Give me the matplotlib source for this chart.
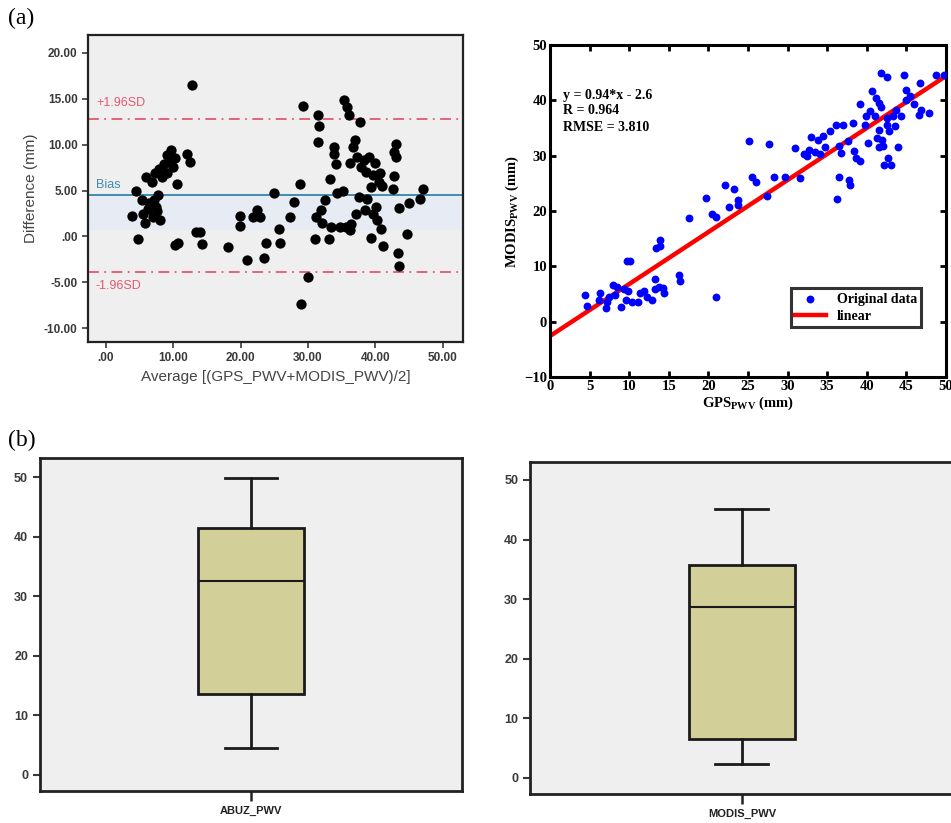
import matplotlib
matplotlib.use("Agg")
import matplotlib.pyplot as plt
import numpy as np

# ----------------- data -----------------
# Bland-Altman: average and difference (mm)
ba_avg = [3.8, 4.5, 4.8, 5.3, 5.5, 5.8, 6.0, 6.4, 6.8, 7.0, 7.3, 7.5, 7.7, 7.9, 8.0,
          8.3, 8.6, 9.0, 9.1, 9.5, 9.7, 10.0, 10.2, 10.3, 10.6, 10.7, 11.96, 12.45,
          12.8, 13.4, 13.9, 14.3, 18.1, 19.9, 19.9, 20.9, 21.8, 22.4, 22.9, 23.4,
          23.7, 25.0, 25.7, 25.9, 27.3, 27.9, 28.8, 28.9, 29.2, 29.99, 30.98, 31.2,
          31.5, 31.5, 31.7, 31.96, 32.1, 32.5, 33.1, 33.2, 33.4, 33.8, 33.9, 34.2,
          34.3, 34.7, 35.2, 35.4, 35.7, 35.8, 36.1, 36.2, 36.3, 36.4, 36.7, 36.9,
          37.05, 37.25, 37.55, 37.7, 37.9, 38.3, 38.4, 38.6, 38.8, 39.0, 39.3, 39.4,
          39.6, 39.7, 39.9, 40.1, 40.2, 40.5, 40.7, 40.9, 41.0, 41.2, 42.6, 42.7,
          42.8, 43.0, 43.1, 43.3, 43.5, 43.5, 44.7, 45.0, 46.6, 47.0,
          6.6, 7.2, 6.2, 7.6]
ba_diff = [2.2, 5.0, -0.3, 4.0, 2.5, 1.5, 6.5, 3.6, 5.9, 2.1, 6.9, 3.2, 4.5, 7.4, 1.8,
           6.5, 7.9, 6.9, 8.9, 8.3, 9.4, 7.6, 8.6, -0.9, 5.7, -0.7, 9.0, 8.1,
           16.5, 0.5, 0.5, -0.8, -1.1, 2.2, 1.1, -2.6, 2.1, 2.9, 2.1, -2.4,
           -0.7, 4.75, 0.8, -0.7, 2.1, 3.8, 5.7, -7.4, 14.2, -4.4, -0.3, 2.1,
           13.2, 10.3, 12.0, 2.9, 1.5, 4.0, -0.3, 6.3, 1.05, 9.8, 9.0, 7.9,
           4.75, 1.05, 5.0, 14.9, 1.05, 14.1, 13.2, 0.7, 8.0, 1.4, 9.8, 10.5,
           2.5, 8.7, 4.25, 12.5, 7.6, 8.3, 2.9, 7.0, 4.1, 8.7, -0.2, 5.4,
           6.7, 2.5, 8.05, 3.2, 1.8, 5.9, 6.9, 0.8, 5.5, -1.05, 5.2, 9.2,
           6.6, 8.7, 10.05, -1.8, -3.2, 3.15, 0.3, 3.6, 4.1, 5.2,
           3.4, 4.0, 3.0, 2.8]
BA_UPPER = 12.8
BA_BIAS = 4.5
BA_LOWER = -3.9

# GPS vs MODIS (mm)
gps = [4.4, 4.7, 6.3, 6.2, 7.1, 7.2, 7.4, 7.9, 8.2, 8.5, 9.0, 9.3, 9.6, 9.7, 10.1,
       9.9, 10.3, 11.1, 11.4, 11.9, 12.2, 12.9, 13.3, 13.3, 13.4, 13.9, 13.9, 13.8,
       14.3, 14.4, 16.3, 16.4, 17.6, 19.7, 20.5, 20.95, 20.95, 22.1, 22.6, 23.3,
       23.8, 23.8, 25.1, 25.5, 26.0, 27.4, 27.6, 28.3, 29.7, 30.9, 31.6, 32.1,
       32.5, 32.7, 33.0, 33.5, 33.9, 34.1, 34.5, 34.7, 35.4, 36.1, 36.3, 36.5,
       36.5, 36.7, 37.0, 37.6, 37.7, 37.9, 38.3, 38.4, 38.6, 39.1, 39.2, 39.8,
       39.9, 40.1, 40.4, 40.6, 41.1, 41.2, 41.3, 41.5, 41.5, 41.6, 41.75, 41.8,
       41.9, 42.1, 42.2, 42.5, 42.6, 42.6, 42.7, 42.8, 43.1, 43.3, 43.6, 43.7,
       43.9, 44.3, 44.7, 44.95, 45.0, 45.5, 45.96, 46.7, 46.6, 46.8, 47.9, 48.7,
       49.7]
modis = [4.9, 2.8, 5.1, 3.9, 2.4, 3.6, 4.5, 6.6, 4.8, 6.3, 2.7, 5.9, 4.0, 10.9, 11.0,
         5.6, 3.6, 3.6, 5.1, 5.5, 4.5, 4.0, 7.8, 5.9, 13.3, 13.7, 14.8, 6.3,
         6.0, 5.1, 8.4, 7.4, 18.7, 22.3, 19.5, 18.9, 4.5, 24.7, 20.8, 24.0,
         22.0, 21.1, 32.6, 26.2, 25.3, 22.8, 32.1, 26.2, 26.1, 31.4, 25.9, 30.3,
         30.0, 31.1, 33.4, 30.6, 32.9, 30.3, 33.5, 31.5, 34.5, 35.6, 22.2, 26.2,
         31.8, 30.5, 35.6, 32.7, 25.6, 24.7, 35.9, 30.8, 29.6, 29.1, 39.4, 35.6,
         37.1, 32.3, 38.1, 41.6, 37.1, 40.4, 33.2, 34.6, 31.5, 39.6, 38.8, 45.0,
         32.9, 31.7, 28.3, 36.8, 44.3, 35.6, 29.6, 34.4, 28.3, 37.1, 35.3, 38.3,
         31.5, 37.2, 44.5, 41.8, 40.0, 40.7, 39.4, 43.1, 37.4, 38.3, 37.8, 44.5,
         44.6]
FIT_SLOPE = 0.94
FIT_INTERCEPT = -2.6

# box plot statistics
box_names = ["ABUZ_PWV", "MODIS_PWV"]
box_whislo = [4.5, 2.3]
box_q1 = [13.6, 6.5]
box_med = [32.5, 28.7]
box_q3 = [41.5, 35.8]
box_whishi = [49.8, 45.2]

# ----------------- style -----------------
plt.rcParams["font.family"] = ["Liberation Sans", "DejaVu Sans"]
plt.rcParams["mathtext.fontset"] = "custom"
plt.rcParams["mathtext.rm"] = "Liberation Serif:bold"
plt.rcParams["mathtext.bf"] = "Liberation Serif:bold"

SPSS_BG = "#efefef"
GRAY_TXT = "#3a3a3a"
SERIF = "Liberation Serif"

fig = plt.figure(figsize=(9.51, 8.23), dpi=100)

# ----------------- (a) left: Bland-Altman -----------------
ax1 = fig.add_axes([0.0925, 0.5845, 0.3943, 0.373])
ax1.set_facecolor(SPSS_BG)
ax1.axhspan(0.8, BA_BIAS, color="#e6ebf4", zorder=0)
ax1.axhline(BA_UPPER, color="#e05a70", lw=1.3, ls=(0, (6, 3, 1, 3)), zorder=1)
ax1.axhline(BA_LOWER, color="#e05a70", lw=1.3, ls=(0, (6, 3, 1, 3)), zorder=1)
ax1.axhline(BA_BIAS, color="#3f8db0", lw=1.4, zorder=1)
ax1.scatter(ba_avg, ba_diff, s=55, color="black", zorder=3, linewidths=0)
ax1.text(-1.5, 14.6, "+1.96SD", color="#e05a70", fontsize=9, va="center")
ax1.text(-1.5, 5.6, "Bias", color="#3f8db0", fontsize=9, va="center")
ax1.text(-1.5, -5.4, "-1.96SD", color="#e05a70", fontsize=9, va="center")
ax1.set_xlim(-2.67, 53.0)
ax1.set_ylim(-11.5, 21.96)
ax1.set_xticks(np.arange(0, 51, 10))
ax1.set_yticks(np.arange(-10, 21, 5))
ax1.set_xticklabels(["%.2f" % v if v != 0 else ".00" for v in range(0, 51, 10)])
ax1.set_yticklabels(["%.2f" % v if v != 0 else ".00" for v in range(-10, 21, 5)])
ax1.tick_params(labelsize=8.5, colors=GRAY_TXT, length=4, width=1.2)
for lab in ax1.get_xticklabels() + ax1.get_yticklabels():
    lab.set_fontweight("bold")
ax1.set_xlabel("Average [(GPS_PWV+MODIS_PWV)/2]", fontsize=11, color="#444444")
ax1.set_ylabel("Difference (mm)", fontsize=11, color="#444444")
for sp in ax1.spines.values():
    sp.set_linewidth(1.6)
    sp.set_color("#222222")

# ----------------- (a) right: GPS vs MODIS -----------------
ax2 = fig.add_axes([0.5783, 0.5419, 0.4164, 0.4034])
xs = np.array([0, 50])
ax2.plot(xs, FIT_SLOPE * xs + FIT_INTERCEPT, color="red", lw=3.2, zorder=2, label="linear")
ax2.scatter(gps, modis, s=32, color="blue", linewidths=0, zorder=3, label="Original data")
ax2.set_xlim(0, 50)
ax2.set_ylim(-10, 50)
ax2.set_xticks(np.arange(0, 51, 5))
ax2.set_yticks(np.arange(-10, 51, 10))
ax2.tick_params(direction="in", top=True, right=True, length=4, width=2, labelsize=10.5, pad=2)
for lab in ax2.get_xticklabels() + ax2.get_yticklabels():
    lab.set_family(SERIF)
    lab.set_fontweight("bold")
for sp in ax2.spines.values():
    sp.set_linewidth(2.2)
ax2.text(0.033, 0.849, "y = 0.94*x - 2.6", transform=ax2.transAxes, family=SERIF,
         fontweight="bold", fontsize=10, va="center")
ax2.text(0.033, 0.802, "R = 0.964", transform=ax2.transAxes, family=SERIF,
         fontweight="bold", fontsize=10, va="center")
ax2.text(0.033, 0.753, "RMSE = 3.810", transform=ax2.transAxes, family=SERIF,
         fontweight="bold", fontsize=10, va="center")
handles, labels = ax2.get_legend_handles_labels()
leg = ax2.legend(handles[::-1], labels[::-1], loc="lower right", bbox_to_anchor=(0.955, 0.13),
                 prop={"family": SERIF, "weight": "bold", "size": 10}, frameon=True,
                 fancybox=False, edgecolor="black", handlelength=2.2, borderpad=0.3,
                 labelspacing=0.3)
leg.get_frame().set_linewidth(2.2)
ax2.set_xlabel(r"GPS$_{\rm PWV}$ (mm)", family=SERIF, fontweight="bold", fontsize=10.5, labelpad=1)
ax2.set_ylabel(r"MODIS$_{\rm PWV}$ (mm)", family=SERIF, fontweight="bold", fontsize=10.5, labelpad=2)

# ----------------- (b) box plots -----------------
box_axes = [
    fig.add_axes([0.042, 0.0389, 0.4437, 0.4046]),
    fig.add_axes([0.5573, 0.0352, 0.4458, 0.4034]),
]
ylims = [(-2.7, 53.2), (-2.7, 53.0)]
for i, ax in enumerate(box_axes):
    stats = [{
        "label": box_names[i],
        "whislo": box_whislo[i],
        "q1": box_q1[i],
        "med": box_med[i],
        "q3": box_q3[i],
        "whishi": box_whishi[i],
        "fliers": [],
    }]
    ax.set_facecolor(SPSS_BG)
    ax.bxp(stats, positions=[1], widths=0.25, patch_artist=True, showfliers=False,
           boxprops=dict(facecolor="#d3cf98", edgecolor="#1a1a1a", linewidth=2),
           medianprops=dict(color="#1a1a1a", linewidth=1.5),
           whiskerprops=dict(color="#1a1a1a", linewidth=2),
           capprops=dict(color="#1a1a1a", linewidth=2))
    ax.set_xlim(0.5, 1.5)
    ax.set_ylim(*ylims[i])
    ax.set_yticks(np.arange(0, 51, 10))
    ax.tick_params(axis="y", labelsize=9, colors=GRAY_TXT, length=5, width=1.5)
    ax.tick_params(axis="x", labelsize=8, colors="#222222", length=7, width=1.8)
    for lab in ax.get_xticklabels() + ax.get_yticklabels():
        lab.set_fontweight("bold")
    for sp in ax.spines.values():
        sp.set_linewidth(2)
        sp.set_color("#222222")

fig.text(0.008, 0.978, "(a)", family=SERIF, fontsize=17, va="center")
fig.text(0.008, 0.465, "(b)", family=SERIF, fontsize=17, va="center")

fig.savefig("out.png", dpi=100)
